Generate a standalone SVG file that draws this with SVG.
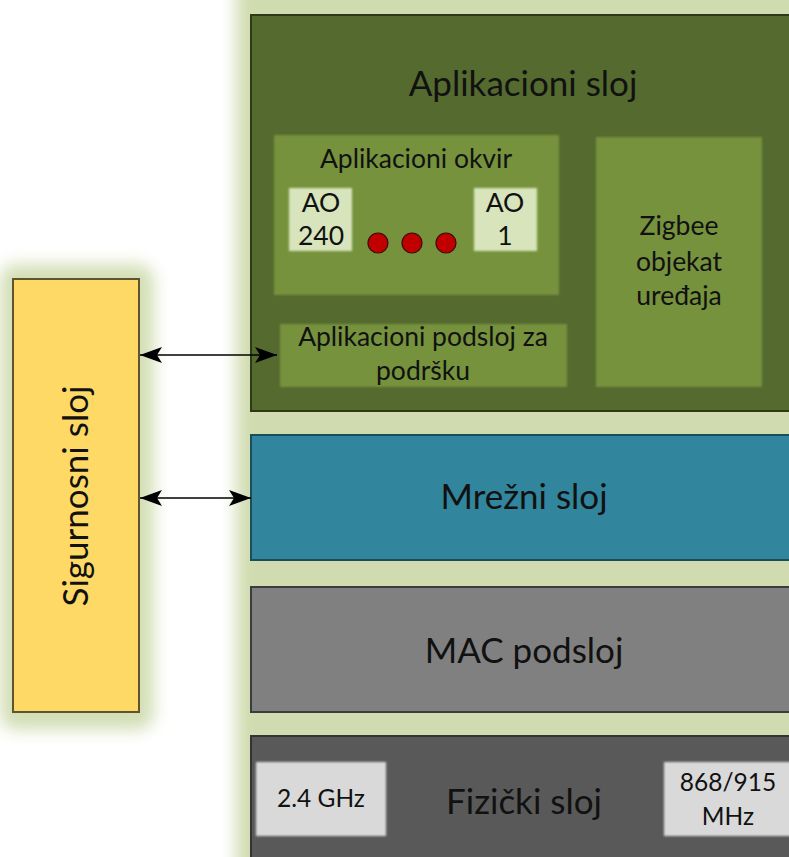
<svg xmlns="http://www.w3.org/2000/svg" width="789" height="857" viewBox="0 0 789 857">
  <defs>
    <filter id="glow" x="-20%" y="-20%" width="140%" height="140%">
      <feGaussianBlur stdDeviation="8"/>
    </filter>
    <filter id="soft" x="-5%" y="-5%" width="110%" height="110%">
      <feGaussianBlur stdDeviation="0.8"/>
    </filter>
    <marker id="head" viewBox="0 0 22 16" refX="22" refY="8" markerWidth="22" markerHeight="16" markerUnits="userSpaceOnUse" orient="auto-start-reverse">
      <path d="M0,0 L22,8 L0,16 L5,8 Z" fill="#000"/>
    </marker>
    <style>
      text { font-family: Lato, "Open Sans", "Liberation Sans", sans-serif; fill: #111; text-anchor: middle; }
      .big { font-size: 35px; }
      .mid { font-size: 26.5px; }
      .small { font-size: 24.5px; }
      .inner { fill: #76923c; }
      .chip { fill: #d7e4bc; }
      .band { fill: #d9d9d9; }
      .dot { fill: #c00000; stroke: #3a0a0a; stroke-width: 1.2; }
      .link { stroke: #000; stroke-width: 1.6; fill: none; }
    </style>
  </defs>

  <rect width="789" height="857" fill="#ffffff"/>

  <!-- halo around the protocol stack and the security column -->
  <g id="halo">
    <rect x="236" y="-20" width="580" height="900" fill="#d0dcb0" filter="url(#glow)"/>
    <rect x="0" y="264" width="154" height="466" rx="16" fill="#d3dfb6" filter="url(#glow)"/>
  </g>

  <!-- Application layer -->
  <g id="app-layer">
    <rect x="251" y="15" width="545" height="396" fill="#546a2e" stroke="#2c3a16" stroke-width="2"/>
    <text class="big" x="523" y="96">Aplikacioni sloj</text>
  </g>

  <g id="app-framework">
    <rect class="inner" x="274" y="135" width="285" height="160" filter="url(#soft)"/>
    <text class="mid" x="416" y="168">Aplikacioni okvir</text>
  </g>

  <g id="ao-240">
    <rect class="chip" x="289" y="188" width="63" height="63" filter="url(#soft)"/>
    <text class="mid" x="321" y="212">AO</text>
    <text class="mid" x="321" y="245">240</text>
  </g>

  <g id="ao-dots">
    <circle class="dot" cx="378" cy="243" r="10"/>
    <circle class="dot" cx="412" cy="243" r="10"/>
    <circle class="dot" cx="446" cy="243" r="10"/>
  </g>

  <g id="ao-1">
    <rect class="chip" x="474" y="188" width="63" height="63" filter="url(#soft)"/>
    <text class="mid" x="505" y="212">AO</text>
    <text class="mid" x="505" y="245">1</text>
  </g>

  <g id="app-support">
    <rect class="inner" x="280" y="324" width="287" height="63" filter="url(#soft)"/>
    <text class="mid" x="423" y="346">Aplikacioni podsloj za</text>
    <text class="mid" x="423" y="380">podršku</text>
  </g>

  <g id="zdo">
    <rect class="inner" x="596" y="137" width="166" height="250" filter="url(#soft)"/>
    <text class="mid" x="679" y="235">Zigbee</text>
    <text class="mid" x="679" y="271">objekat</text>
    <text class="mid" x="679" y="305">uređaja</text>
  </g>

  <!-- Network layer -->
  <g id="network-layer">
    <rect x="251" y="435" width="545" height="125" fill="#31859c" stroke="#1b4e5b" stroke-width="2"/>
    <text class="big" x="524" y="509">Mrežni sloj</text>
  </g>

  <!-- MAC sublayer -->
  <g id="mac-layer">
    <rect x="251" y="587" width="545" height="125" fill="#808080" stroke="#3c3c3c" stroke-width="2"/>
    <text class="big" x="524" y="663">MAC podsloj</text>
  </g>

  <!-- Physical layer -->
  <g id="phy-layer">
    <rect x="251" y="736" width="545" height="130" fill="#595959" stroke="#333" stroke-width="2"/>
    <text class="big" x="524" y="814">Fizički sloj</text>
  </g>

  <g id="phy-24">
    <rect class="band" x="256" y="762" width="130" height="74" filter="url(#soft)"/>
    <text class="small" x="321" y="807">2.4 GHz</text>
  </g>

  <g id="phy-868">
    <rect class="band" x="664" y="762" width="130" height="74" filter="url(#soft)"/>
    <text class="small" x="728" y="791">868/915</text>
    <text class="small" x="728" y="825">MHz</text>
  </g>

  <!-- Security column -->
  <g id="security">
    <rect x="13" y="279" width="126" height="433" fill="#ffd966" stroke="#5e5430" stroke-width="2"/>
    <text class="big" transform="translate(88 496) rotate(-90)" x="0" y="0">Sigurnosni sloj</text>
  </g>

  <!-- connectors -->
  <g id="connectors">
    <line class="link" x1="140" y1="355" x2="277" y2="355" marker-start="url(#head)" marker-end="url(#head)"/>
    <line class="link" x1="140" y1="498" x2="251" y2="498" marker-start="url(#head)" marker-end="url(#head)"/>
  </g>
</svg>
